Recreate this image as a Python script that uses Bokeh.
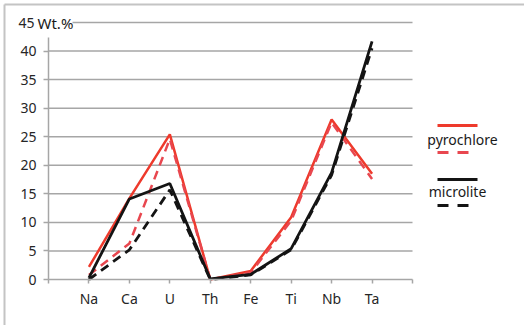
from bokeh.plotting import figure
from bokeh.models import FixedTicker, Label, Range1d, LinearAxis
from bokeh.core.properties import value
from bokeh.embed import file_html
from bokeh.resources import INLINE

elements = ["Na", "Ca", "U", "Th", "Fe", "Ti", "Nb", "Ta"]
pyro_solid = [2.2, 14.2, 25.4, 0.0, 1.5, 10.9, 28.0, 18.5]
pyro_dash = [0.8, 6.3, 24.6, 0.0, 1.2, 10.3, 27.5, 17.6]
micro_solid = [0.3, 14.1, 16.8, 0.1, 0.9, 5.4, 18.7, 41.7]
micro_dash = [0.0, 5.2, 15.7, 0.0, 0.8, 5.2, 18.3, 40.5]
y_ticks = [0, 5, 10, 15, 20, 25, 30, 35, 40]
y_top = 45
legend_names = ["pyrochlore", "microlite"]

FONT = "Noto Sans"
xs = list(range(1, len(elements) + 1))
n_slots = len(elements) + 1

# canvas geometry (pixels)
W, H = 524, 325
ox, oy = 48, 279            # pixel position of the data origin
px_x = 364 / n_slots        # pixels per category slot
px_y = 257 / y_top          # pixels per wt.%


def dx(px):
    return (px - ox) / px_x


def dy(py):
    return (oy - py) / px_y


p = figure(width=W, height=H, output_backend="svg", toolbar_location=None,
           x_axis_type=None, y_axis_type=None,
           x_range=Range1d(dx(0), dx(W)), y_range=Range1d(dy(H), dy(0)),
           min_border_left=0, min_border_right=0,
           min_border_top=0, min_border_bottom=0)
p.outline_line_color = None
p.xgrid.visible = False
p.ygrid.visible = False

# outer frame (left and top edges)
frame_c = "#c4c4c4"
p.segment(x0=[dx(4), dx(4)], x1=[dx(4), dx(W)], y0=[dy(4), dy(4)], y1=[dy(H), dy(4)],
          line_color=frame_c, line_width=2)

grid_color = "#a6a6a6"
gy = y_ticks[1:]
p.segment(x0=[0] * len(gy), x1=[n_slots] * len(gy), y0=gy, y1=gy,
          line_color=grid_color, line_width=1.5)
p.segment(x0=[dx(72)], x1=[n_slots], y0=[y_top], y1=[y_top],
          line_color=grid_color, line_width=1.5)

xa = LinearAxis(fixed_location=0)
xa.ticker = FixedTicker(ticks=list(range(0, n_slots + 1)))
xa.major_label_overrides = {0: "", n_slots: "", **{i: e for i, e in zip(xs, elements)}}
xa.bounds = (0, n_slots)
ya = LinearAxis(fixed_location=0)
ya.ticker = FixedTicker(ticks=y_ticks)
ya.bounds = (0, dy(37))
for ax in (xa, ya):
    ax.axis_line_color = grid_color
    ax.axis_line_width = 1.5
    ax.major_tick_line_color = grid_color
    ax.major_tick_line_width = 1.5
    ax.major_tick_in = 0
    ax.minor_tick_line_color = None
    ax.major_label_text_font = FONT
    ax.major_label_text_font_size = "14px"
    ax.major_label_text_color = "#262626"
xa.major_tick_out = 4
xa.major_label_standoff = 5
ya.major_tick_out = 5
ya.major_label_standoff = 7
p.add_layout(xa, "below")
p.add_layout(ya, "left")

p.add_layout(Label(x=0, y=y_top, text=str(y_top), x_offset=-14, text_align="right",
                   text_baseline="middle", text_font=FONT, text_font_size="14px",
                   text_color="#262626"))
p.add_layout(Label(x=0, y=y_top, text="Wt.%", x_offset=-11, text_align="left",
                   text_baseline="middle", text_font=FONT, text_font_size="15px",
                   text_color="#1a1a1a"))

red = "#ee3a2c"
red_d = "#e8474f"
black = "#141414"

p.line(xs, pyro_solid, line_color=red, line_width=2.5)
p.line(xs, pyro_dash, line_color=red_d, line_width=2.5, line_dash="9 6")
p.line(xs, micro_solid, line_color=black, line_width=2.8)
p.line(xs, micro_dash, line_color=black, line_width=2.8, line_dash="9 6")

# legend: line above and dashed line below each name
p.segment(x0=[dx(437)] * 2, x1=[dx(477)] * 2, y0=[dy(125), dy(179)], y1=[dy(125), dy(179)],
          line_color=[red, black], line_width=3)
p.segment(x0=[dx(437)] * 2, x1=[dx(469)] * 2, y0=[dy(152), dy(205)], y1=[dy(152), dy(205)],
          line_color=[red_d, black], line_width=3, line_dash="11 9")
p.text(x=[dx(462), dx(457)], y=[dy(139), dy(191)], text=legend_names, text_align="center",
       text_baseline="middle", text_font=value(FONT), text_font_size="14px",
       text_color="#1a1a1a")

open("out.html", "w").write(file_html(p, INLINE))
